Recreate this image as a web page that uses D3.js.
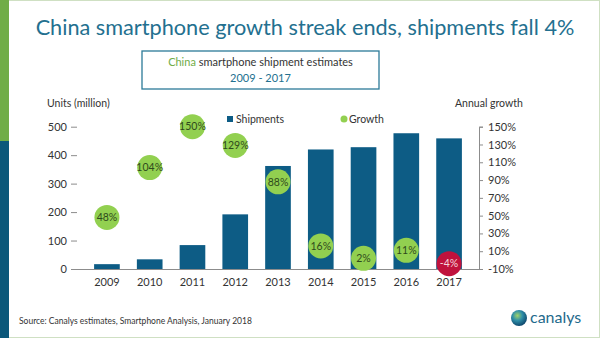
<!DOCTYPE html>
<html>
<head>
<meta charset="utf-8">
<script src="https://cdn.jsdelivr.net/npm/d3@7"></script>
<style>
  html, body { margin: 0; padding: 0; background: #fff; }
  svg text { font-family: Lato, "Open Sans", sans-serif; }
</style>
</head>
<body>
<div class="chart"></div>
<script>
const years = ['2009', '2010', '2011', '2012', '2013', '2014', '2015', '2016', '2017'];
const shipments = [17, 34, 84, 192, 362, 420, 428, 477, 459];
const growth = [48, 104, 150, 129, 88, 16, 2, 11, -4];
const unitTicks = [0, 100, 200, 300, 400, 500];
const growthTicks = [-10, 10, 30, 50, 70, 90, 110, 130, 150];

const width = 600;
const height = 338;
const barColor = '#0d5c85';
const green = '#92d050';
const red = '#c0123d';
const teal = '#23708f';

const svg = d3.select('.chart')
    .append('svg')
    .attr('width', width)
    .attr('height', height);

// frame and side stripe
svg.append('rect')
    .attr('x', 0.5).attr('y', 0.5)
    .attr('width', width - 1).attr('height', height - 1)
    .attr('fill', '#fff')
    .attr('stroke', '#cfe0c3');
svg.append('rect')
    .attr('x', 0).attr('y', 0)
    .attr('width', 9).attr('height', 141)
    .attr('fill', '#70ad47');
svg.append('rect')
    .attr('x', 0).attr('y', 141)
    .attr('width', 9).attr('height', height - 141)
    .attr('fill', '#0b587a');

// headline
svg.append('text')
    .attr('x', 305)
    .attr('y', 35)
    .attr('text-anchor', 'middle')
    .attr('fill', teal)
    .style('font-size', '21.7px')
    .text('China smartphone growth streak ends, shipments fall 4%');

// boxed subtitle
svg.append('rect')
    .attr('x', 142).attr('y', 51)
    .attr('width', 237).attr('height', 38)
    .attr('fill', '#fff')
    .attr('stroke', '#2b7a98')
    .attr('stroke-width', 1.3);
const sub = svg.append('text')
    .attr('x', 260.5)
    .attr('y', 66)
    .attr('text-anchor', 'middle')
    .style('font-size', '11px');
sub.append('tspan').attr('fill', '#70ad47').text('China');
sub.append('tspan').attr('fill', '#333').text(' smartphone shipment estimates');
svg.append('text')
    .attr('x', 260.5)
    .attr('y', 82)
    .attr('text-anchor', 'middle')
    .attr('fill', teal)
    .style('font-size', '11px')
    .text('2009 - 2017');

// scales
const x = d3.scaleBand().domain(years).range([77, 479]).padding(0.4);
const yUnits = d3.scaleLinear().domain([0, 500]).range([269, 126.7]);
const yGrowth = d3.scaleLinear().domain([-10, 150]).range([269, 126.7]);

// axes
const leftAxis = svg.append('g')
    .attr('transform', 'translate(77,0)')
    .call(d3.axisLeft(yUnits).tickValues(unitTicks).tickSize(6).tickPadding(4));
leftAxis.select('.domain').remove();

const rightAxis = svg.append('g')
    .attr('transform', 'translate(479,0)')
    .call(d3.axisRight(yGrowth).tickValues(growthTicks).tickSize(4).tickPadding(5)
        .tickFormat(d => d + '%'));

const bottomAxis = svg.append('g')
    .attr('transform', 'translate(0,269)')
    .call(d3.axisBottom(x).tickSize(0).tickPadding(9));
bottomAxis.select('.domain').attr('d', 'M72,0.5H479');

[leftAxis, rightAxis, bottomAxis].forEach(g => {
    g.selectAll('.domain, line').attr('stroke', '#8c8c8c');
    g.selectAll('text')
        .attr('fill', '#333')
        .style('font-size', '11px')
        .style('font-family', 'Lato, "Open Sans", sans-serif');
});

// axis titles
svg.append('text')
    .attr('x', 47).attr('y', 107)
    .attr('fill', '#333')
    .style('font-size', '10.5px')
    .text('Units (million)');
svg.append('text')
    .attr('x', 455).attr('y', 107)
    .attr('fill', '#333')
    .style('font-size', '10.5px')
    .text('Annual growth');

// shipment bars
svg.selectAll('.bar')
    .data(years).enter()
    .append('rect')
    .attr('class', 'bar')
    .attr('x', d => x(d))
    .attr('y', (d, i) => yUnits(shipments[i]))
    .attr('width', x.bandwidth())
    .attr('height', (d, i) => yUnits(0) - yUnits(shipments[i]))
    .attr('fill', barColor);

// growth bubbles on the right-hand scale
const bubbles = svg.selectAll('.growth')
    .data(years).enter()
    .append('g')
    .attr('class', 'growth')
    .attr('transform', (d, i) => `translate(${x(d) + x.bandwidth() / 2},${yGrowth(growth[i])})`);
bubbles.append('circle')
    .attr('r', 12.5)
    .attr('fill', (d, i) => growth[i] < 0 ? red : green);
bubbles.append('text')
    .attr('text-anchor', 'middle')
    .attr('dy', '0.36em')
    .attr('fill', (d, i) => growth[i] < 0 ? '#f6d6dc' : '#2f4a1c')
    .style('font-size', '10.5px')
    .text((d, i) => growth[i] + '%');

// legend
svg.append('rect')
    .attr('x', 227).attr('y', 116)
    .attr('width', 6).attr('height', 6)
    .attr('fill', barColor);
svg.append('text')
    .attr('x', 236).attr('y', 123)
    .attr('fill', '#333')
    .style('font-size', '10.5px')
    .text('Shipments');
svg.append('circle')
    .attr('cx', 344).attr('cy', 119)
    .attr('r', 3.5)
    .attr('fill', green);
svg.append('text')
    .attr('x', 349).attr('y', 123)
    .attr('fill', '#333')
    .style('font-size', '10.5px')
    .text('Growth');

// footer
svg.append('text')
    .attr('x', 19).attr('y', 324)
    .attr('fill', '#333')
    .style('font-size', '8.5px')
    .text('Source: Canalys estimates, Smartphone Analysis, January 2018');

const globe = svg.append('defs').append('radialGradient')
    .attr('id', 'globe')
    .attr('cx', '40%').attr('cy', '35%').attr('r', '70%');
globe.append('stop').attr('offset', '0%').attr('stop-color', '#9fd36a');
globe.append('stop').attr('offset', '45%').attr('stop-color', '#2f8fa8');
globe.append('stop').attr('offset', '100%').attr('stop-color', '#0a3f66');
svg.append('circle')
    .attr('cx', 519).attr('cy', 318)
    .attr('r', 8)
    .attr('fill', 'url(#globe)');
svg.append('text')
    .attr('x', 530).attr('y', 323)
    .attr('fill', '#1f6a8c')
    .style('font-size', '16px')
    .text('canalys');
</script>
</body>
</html>
